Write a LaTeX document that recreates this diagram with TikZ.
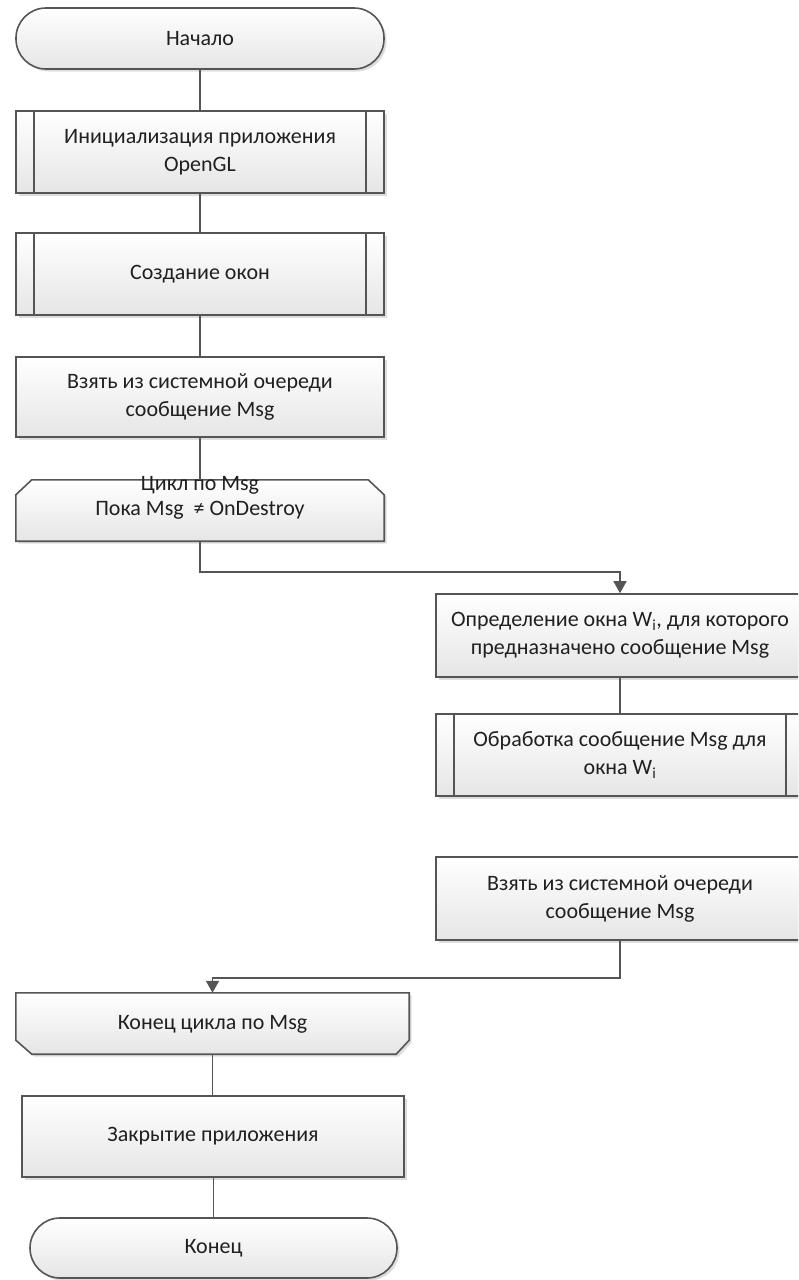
\documentclass[tikz,border=0pt]{standalone}
\usepackage{fontspec}
\setmainfont{Carlito}
\usetikzlibrary{arrows.meta,shadows,calc}
\pgfdeclarelayer{background}
\pgfsetlayers{background,main}
\definecolor{linec}{HTML}{555555}
\definecolor{txt}{HTML}{202020}
\tikzset{
  shapefill/.style={draw=linec, line width=1.6pt, top color=white, bottom color=black!10,
    drop shadow={shadow xshift=2.5pt, shadow yshift=-2.5pt, opacity=0.22, fill=black!60}},
  lbl/.style={text=txt, font=\fontsize{22}{28}\selectfont, align=center, inner sep=0pt},
  procbox/.style={shapefill, lbl, rectangle, minimum width=368pt, minimum height=82pt},
  termbox/.style={shapefill, lbl, rectangle, rounded corners=30pt, minimum width=368pt, minimum height=61pt},
  subbox/.style={procbox, path picture={\draw[linec, line width=1.6pt]
      ([xshift=18pt]path picture bounding box.north west) -- ([xshift=18pt]path picture bounding box.south west)
      ([xshift=-18pt]path picture bounding box.north east) -- ([xshift=-18pt]path picture bounding box.south east);}},
  conn/.style={draw=linec, line width=1.6pt},
  arr/.style={conn, -{Triangle[width=13pt,length=12pt]}},
  holder/.style={inner sep=0pt, minimum width=#1},
}
\begin{document}
\begin{tikzpicture}[x=1pt, y=-1pt]
\useasboundingbox (0,0) rectangle (798,1280);
\clip (0,0) rectangle (798,1280);

% left column (top)
\node[termbox] (start) at (200,38.5) {Начало};
\node[subbox, minimum height=82pt] (init) at (200,152) {Инициализация приложения\\OpenGL};
\node[subbox, minimum height=82pt] (win) at (200,274) {Создание окон};
\node[procbox, minimum height=80pt] (get1) at (200,397) {Взять из системной очереди\\сообщение Msg};

% loop start
\node[holder=368pt, minimum height=61pt] (loop) at (200,510.5) {};
\begin{pgfonlayer}{background}
\path[shapefill] (loop.south west) -- ($(loop.north west)+(0,15)$) -- ($(loop.north west)+(16,0)$)
  -- ($(loop.north east)+(-16,0)$) -- ($(loop.north east)+(0,15)$) -- (loop.south east) -- cycle;
\end{pgfonlayer}
\node[lbl, font=\fontsize{22}{25}\selectfont] (loopt) at (200,497.5) {Цикл по Msg\\Пока Msg\ \ ≠ OnDestroy};

% right column
\node[procbox, minimum height=83pt] (def) at (620,635.5) {Определение окна W\textsubscript{i}, для которого\\предназначено сообщение Msg};
\node[subbox, minimum height=82pt] (proc) at (620,755) {Обработка сообщение Msg для\\окна W\textsubscript{i}};
\node[procbox, minimum height=83pt] (get2) at (620,898.5) {Взять из системной очереди\\сообщение Msg};

% loop end
\node[holder=393pt, minimum height=61pt] (lend) at (212.5,1023.5) {};
\begin{pgfonlayer}{background}
\path[shapefill] (lend.north west) -- (lend.north east) -- ($(lend.south east)+(0,-14)$)
  -- ($(lend.south east)+(-13,0)$) -- ($(lend.south west)+(16,0)$) -- ($(lend.south west)+(0,-14)$) -- cycle;
\end{pgfonlayer}
\node[lbl] (lendt) at (212.5,1024) {Конец цикла по Msg};

\node[procbox, minimum width=382pt, minimum height=81pt] (close) at (213,1136.5) {Закрытие приложения};
\node[termbox, minimum width=367pt, minimum height=60pt] (end) at (213.5,1248) {Конец};

% connectors
\draw[conn] (start) -- (init);
\draw[conn] (init) -- (win);
\draw[conn] (win) -- (get1);
\draw[conn] (get1) -- (loop.north);
\draw[arr] (loop.south) -- ++(0,31) -| (def.north);
\draw[conn] (def) -- (proc);
\draw[arr] (get2.south) -- ++(0,37) -| (lend.north);
\draw[conn] (lend.south) -- (close.north -| lend.south);
\draw[conn] (close.south -| end.north) -- (end.north);
\end{tikzpicture}
\end{document}
